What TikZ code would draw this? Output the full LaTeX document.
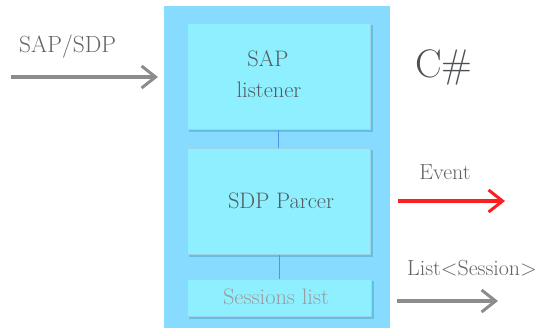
\documentclass[tikz,border=0pt]{standalone}
\usetikzlibrary{arrows.meta}
\definecolor{outerblue}{RGB}{135,219,255}
\definecolor{innerblue}{RGB}{142,240,255}
\definecolor{shadowblue}{RGB}{92,182,214}
\definecolor{linkblue}{RGB}{80,150,230}
\definecolor{txtgray}{RGB}{85,90,95}
\definecolor{lblgray}{RGB}{100,100,100}
\definecolor{arrgray}{RGB}{140,140,140}
\definecolor{evred}{RGB}{255,30,30}
\tikzset{
  innerbox/.style={fill=innerblue, draw=shadowblue!60, line width=0.8bp, inner sep=0pt},
  boxtext/.style={text=txtgray, font=\fontsize{22.5}{26}\selectfont, align=center},
  lbl/.style={text=lblgray, font=\fontsize{22}{26}\selectfont, inner sep=0pt},
  bigarrow/.style={line width=3.5bp, -{Straight Barb[length=14bp,width=22bp,line width=3bp]}},
  link/.style={draw=linkblue, line width=1bp},
  boxshadow/.style={fill=shadowblue, opacity=0.75}
}
\begin{document}
\begin{tikzpicture}[x=1bp,y=-1bp]
\useasboundingbox (0,0) rectangle (546,328);
% outer container
\fill[outerblue] (164,6) rectangle (390,328);
% shadows
\fill[boxshadow] (189,25) rectangle (372.5,131.5);
\fill[boxshadow] (189,150) rectangle (372.5,256.5);
\fill[boxshadow] (189,281) rectangle (373.5,318.5);
% inner boxes
\node[innerbox, minimum width=183bp, minimum height=106bp, anchor=north west] (sap) at (187,23) {};
\node[innerbox, minimum width=183bp, minimum height=106bp, anchor=north west] (sdp) at (187,148) {};
\node[innerbox, minimum width=184bp, minimum height=37bp, anchor=north west] (sess) at (187,279) {};
% texts
\node[boxtext] (saptxt) at (268,59) {SAP};
\node[boxtext] (listtxt) at (269,90) {listener};
\node[boxtext] (sdptxt) at (281,201) {SDP Parcer};
\node[boxtext, text=txtgray!60] (sesstxt) at (276,297) {Sessions list};
% links
\draw[link] (sap.south -| 278,0) -- (sdp.north -| 278,0);
\draw[link] (sdp.south -| 279,0) -- (sess.north -| 279,0);
% C#
\node[text=txtgray!90!black, font=\fontsize{40}{44}\selectfont, inner sep=0pt] (cs) at (444,67) {C\#};
% input arrow
\coordinate (inA) at (11,77);
\coordinate (inB) at (158,77);
\draw[bigarrow, arrgray] (inA) -- (inB);
\node[lbl, font=\fontsize{23.5}{26}\selectfont, anchor=west] (insap) at (19,47) {SAP/SDP};
% event arrow
\coordinate (evA) at (398,201);
\coordinate (evB) at (505,201);
\draw[bigarrow, evred] (evA) -- (evB);
\node[lbl] (evlbl) at (445,172) {Event};
% list arrow
\coordinate (lsA) at (397,301);
\coordinate (lsB) at (498,301);
\draw[bigarrow, arrgray] (lsA) -- (lsB);
\node[lbl] (lslbl) at (472,268) {List<Session>};
\end{tikzpicture}
\end{document}
